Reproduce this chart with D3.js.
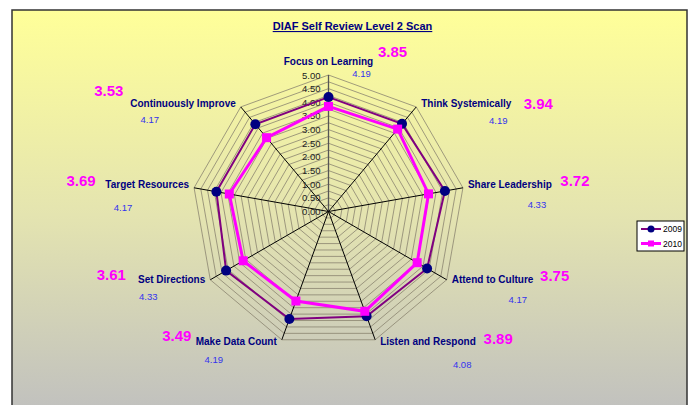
<!DOCTYPE html>
<html>
<head>
<meta charset="utf-8">
<script src="https://cdn.jsdelivr.net/npm/d3@7"></script>
<style>
  body { margin: 0; background: #fff; }
  text { font-family: "Liberation Sans", Arial, sans-serif; }
</style>
</head>
<body>
<div id="chart"></div>
<script>
// Chart data
var categories = ["Focus on Learning", "Think Systemically", "Share Leadership", "Attend to Culture",
                  "Listen and Respond", "Make Data Count", "Set Directions", "Target Resources",
                  "Continuously Improve"];
var values2009 = [4.19, 4.19, 4.33, 4.17, 4.08, 4.19, 4.33, 4.17, 4.17];
var values2010 = [3.85, 3.94, 3.72, 3.75, 3.89, 3.49, 3.61, 3.69, 3.53];
var seriesNames = ["2009", "2010"];
var tickLabels = ["0.00", "0.50", "1.00", "1.50", "2.00", "2.50", "3.00", "3.50", "4.00", "4.50", "5.00"];

// Offsets of the hand placed value labels, from the end of each axis
var pinkOffsets = [[64, -18], [122, 2], [112, -2], [108, 1], [123, 4], [-105, 1], [-99, 0], [-113, -2], [-132, -11]];
var blueOffsets = [[33, 2], [82, 17], [74, 20], [71, 23], [87, 28], [-68, 23], [-62, 20], [-71, 23], [-91, 16]];

function init() {
    var w = 693, h = 405;
    var cx = 328.5, cy = 211.5, radius = 136.5;
    var maxValue = 5;

    var svg = d3.select("#chart").append("svg")
        .attr("width", w)
        .attr("height", h);

    // Background gradient of the chart area
    var grad = svg.append("defs").append("linearGradient")
        .attr("id", "bg")
        .attr("x1", 0).attr("y1", 0).attr("x2", 0).attr("y2", 1);
    grad.append("stop").attr("offset", "0%").attr("stop-color", "#ffff99");
    grad.append("stop").attr("offset", "50%").attr("stop-color", "#e4e4b0");
    grad.append("stop").attr("offset", "100%").attr("stop-color", "#bfbfbf");

    svg.append("rect")
        .attr("x", 12).attr("y", 10)
        .attr("width", 675).attr("height", 410)
        .attr("fill", "url(#bg)")
        .attr("stroke", "#333")
        .attr("stroke-width", 1.5);

    // Title
    svg.append("text")
        .attr("x", 352.5).attr("y", 30)
        .attr("text-anchor", "middle")
        .attr("font-size", "11px")
        .attr("font-weight", "bold")
        .attr("fill", "#000080")
        .attr("text-decoration", "underline")
        .text("DIAF Self Review Level 2 Scan");

    var angle = d3.scaleLinear()
        .domain([0, categories.length])
        .range([0, 2 * Math.PI]);

    var r = d3.scaleLinear()
        .domain([0, maxValue])
        .range([0, radius]);

    function point(i, v) {
        var a = angle(i);
        return [cx + r(v) * Math.sin(a), cy - r(v) * Math.cos(a)];
    }

    var g = svg.append("g");

    // Grid rings every 0.25
    var rings = d3.range(0.25, maxValue + 0.001, 0.25);
    g.selectAll(".ring")
        .data(rings)
        .enter()
        .append("polygon")
        .attr("class", "ring")
        .attr("points", function(v) {
            return categories.map(function(c, i) { return point(i, v).join(","); }).join(" ");
        })
        .attr("fill", "none")
        .attr("stroke", "#8a8470")
        .attr("stroke-width", 0.8);

    // Spokes
    g.selectAll(".spoke")
        .data(categories)
        .enter()
        .append("line")
        .attr("class", "spoke")
        .attr("x1", cx).attr("y1", cy)
        .attr("x2", function(d, i) { return point(i, maxValue)[0]; })
        .attr("y2", function(d, i) { return point(i, maxValue)[1]; })
        .attr("stroke", function(d, i) { return i === 0 ? "#555" : "#000"; })
        .attr("stroke-width", function(d, i) { return i === 0 ? 1.3 : 1; });

    // Tick labels along the first axis
    g.selectAll(".tick")
        .data(tickLabels)
        .enter()
        .append("text")
        .attr("class", "tick")
        .attr("x", cx - 8)
        .attr("y", function(d) { return cy - r(+d) + 3.5; })
        .attr("text-anchor", "end")
        .attr("font-size", "9.5px")
        .attr("fill", "#222")
        .text(function(d) { return d; });

    // Series lines and markers
    var line = d3.line();

    function closed(vals) {
        var pts = vals.map(function(v, i) { return point(i, v); });
        pts.push(pts[0]);
        return pts;
    }

    g.append("path")
        .attr("d", line(closed(values2009)))
        .attr("fill", "none")
        .attr("stroke", "#800080")
        .attr("stroke-width", 2);

    g.append("path")
        .attr("d", line(closed(values2010)))
        .attr("fill", "none")
        .attr("stroke", "#ff00ff")
        .attr("stroke-width", 3);

    g.selectAll(".m2009")
        .data(values2009)
        .enter()
        .append("circle")
        .attr("class", "m2009")
        .attr("cx", function(d, i) { return point(i, d)[0]; })
        .attr("cy", function(d, i) { return point(i, d)[1]; })
        .attr("r", 5)
        .attr("fill", "#000080");

    g.selectAll(".m2010")
        .data(values2010)
        .enter()
        .append("rect")
        .attr("class", "m2010")
        .attr("x", function(d, i) { return point(i, d)[0] - 4.5; })
        .attr("y", function(d, i) { return point(i, d)[1] - 4.5; })
        .attr("width", 9)
        .attr("height", 9)
        .attr("fill", "#ff00ff");

    // Category labels at the axis ends
    g.selectAll(".cat")
        .data(categories)
        .enter()
        .append("text")
        .attr("class", "cat")
        .attr("x", function(d, i) {
            var s = Math.sin(angle(i));
            return point(i, maxValue)[0] + (s > 0.1 ? 5 : s < -0.1 ? -5 : 0);
        })
        .attr("y", function(d, i) {
            var c = Math.cos(angle(i));
            var dy = c > 0.9 ? -10 : (c < 0 ? 1 - 5 * c : 0);
            return point(i, maxValue)[1] + dy;
        })
        .attr("text-anchor", function(d, i) {
            var s = Math.sin(angle(i));
            return s > 0.1 ? "start" : s < -0.1 ? "end" : "middle";
        })
        .attr("font-size", "10px")
        .attr("font-weight", "bold")
        .attr("fill", "#000080")
        .text(function(d) { return d; });

    // 2010 value labels (pink)
    g.selectAll(".v2010")
        .data(values2010)
        .enter()
        .append("text")
        .attr("class", "v2010")
        .attr("x", function(d, i) { return point(i, maxValue)[0] + pinkOffsets[i][0]; })
        .attr("y", function(d, i) { return point(i, maxValue)[1] + pinkOffsets[i][1]; })
        .attr("text-anchor", "middle")
        .attr("font-size", "15px")
        .attr("font-weight", "bold")
        .attr("fill", "#ff00ff")
        .text(function(d) { return d.toFixed(2); });

    // 2009 value labels (blue)
    g.selectAll(".v2009")
        .data(values2009)
        .enter()
        .append("text")
        .attr("class", "v2009")
        .attr("x", function(d, i) { return point(i, maxValue)[0] + blueOffsets[i][0]; })
        .attr("y", function(d, i) { return point(i, maxValue)[1] + blueOffsets[i][1]; })
        .attr("text-anchor", "middle")
        .attr("font-size", "9.5px")
        .attr("fill", "#3333ee")
        .text(function(d) { return d.toFixed(2); });

    // Legend
    var legend = svg.append("g").attr("transform", "translate(637,221)");
    legend.append("rect")
        .attr("width", 47).attr("height", 30)
        .attr("fill", "#fff")
        .attr("stroke", "#000")
        .attr("stroke-width", 1);

    var items = legend.selectAll(".item")
        .data(seriesNames)
        .enter()
        .append("g")
        .attr("class", "item")
        .attr("transform", function(d, i) { return "translate(0," + (8 + i * 14.5) + ")"; });

    items.append("line")
        .attr("x1", 4).attr("x2", 24)
        .attr("stroke", function(d, i) { return i === 0 ? "#800080" : "#ff00ff"; })
        .attr("stroke-width", function(d, i) { return i === 0 ? 2 : 3; });

    items.filter(function(d, i) { return i === 0; })
        .append("circle")
        .attr("cx", 14).attr("r", 3.5)
        .attr("fill", "#000080");

    items.filter(function(d, i) { return i === 1; })
        .append("rect")
        .attr("x", 11).attr("y", -3).attr("width", 6).attr("height", 6)
        .attr("fill", "#ff00ff");

    items.append("text")
        .attr("x", 26).attr("y", 3)
        .attr("font-size", "8.5px")
        .attr("fill", "#000")
        .text(function(d) { return d; });
}

window.onload = init;
</script>
</body>
</html>
